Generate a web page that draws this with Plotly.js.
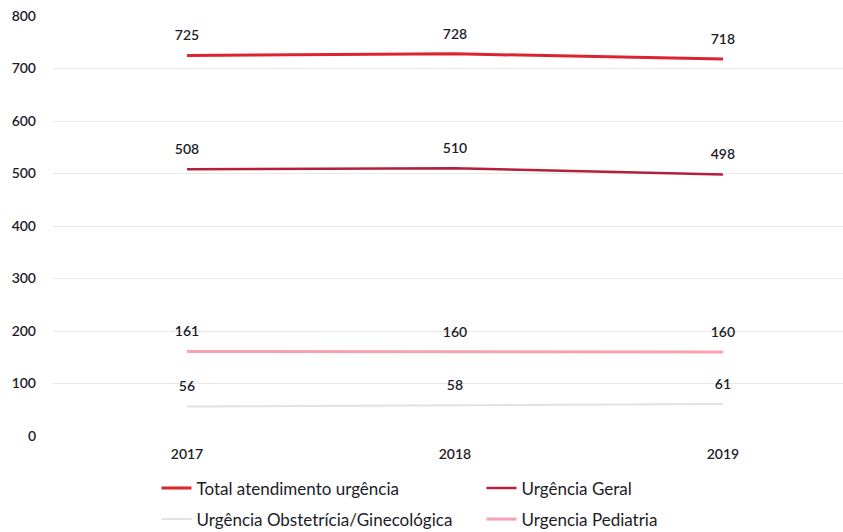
<!DOCTYPE html>
<html>
<head>
<meta charset="utf-8">
<script src="https://cdn.plot.ly/plotly-3.0.1.min.js"></script>
<style>
  html, body { margin: 0; padding: 0; background: #fff; }
  #chart { width: 843px; height: 532px; }
</style>
</head>
<body>
<div id="chart"></div>
<script>
// Anos
const anos = ['2017', '2018', '2019'];

// Atendimentos de urgência por tipo
const totalAtendimento = [725, 728, 718];
const urgenciaGeral = [508, 510, 498];
const urgenciaObstetrica = [56, 58, 61];
const urgenciaPediatria = [161, 160, 160];

// Eixo Y
const yTicks = [0, 100, 200, 300, 400, 500, 600, 700, 800];

const fontFamily = 'Lato, "Open Sans", sans-serif';
const textColor = '#1c1c28';

// Linha da série (entra na legenda)
function linha(nome, valores, cor, largura, legenda) {
  return {
    type: 'scatter',
    mode: 'lines',
    name: nome,
    x: anos,
    y: valores,
    legend: legenda,
    line: { color: cor, width: largura },
    hoverinfo: 'skip'
  };
}

// Rótulos de valor acima de cada ponto
function rotulos(valores) {
  return {
    type: 'scatter',
    mode: 'markers+text',
    x: anos,
    y: valores,
    text: valores.map(String),
    textposition: 'top center',
    textfont: { family: fontFamily, size: 14, color: textColor, weight: 600 },
    marker: { size: 17, opacity: 0 },
    showlegend: false,
    cliponaxis: false,
    hoverinfo: 'skip'
  };
}

const data = [
  linha('Total atendimento urgência', totalAtendimento, '#dc2430', 3, 'legend'),
  linha('Urgência Geral', urgenciaGeral, '#b3203a', 2.5, 'legend'),
  linha('Urgência Obstetrícia/Ginecológica', urgenciaObstetrica, '#e2e2e2', 2, 'legend2'),
  linha('Urgencia Pediatria', urgenciaPediatria, '#f5a3b3', 3, 'legend2'),
  rotulos(totalAtendimento),
  rotulos(urgenciaGeral),
  rotulos(urgenciaObstetrica),
  rotulos(urgenciaPediatria)
];

const legendaBase = {
  orientation: 'h',
  x: 0.131,
  xanchor: 'left',
  yanchor: 'top',
  entrywidth: 280,
  entrywidthmode: 'pixels',
  font: { family: fontFamily, size: 17, color: textColor },
  bgcolor: 'rgba(0,0,0,0)',
  itemclick: false,
  itemdoubleclick: false
};

const layout = {
  width: 843,
  height: 532,
  margin: { l: 53, r: 0, t: 16, b: 96, autoexpand: false },
  paper_bgcolor: '#ffffff',
  plot_bgcolor: '#ffffff',
  font: { family: fontFamily, color: textColor },
  showlegend: true,
  xaxis: {
    type: 'category',
    range: [-0.5, 2.448],
    showgrid: false,
    zeroline: false,
    showline: false,
    ticks: '',
    ticklabelstandoff: 8,
    tickfont: { family: fontFamily, size: 14, color: textColor, weight: 600 },
    fixedrange: true
  },
  yaxis: {
    range: [0, 800],
    tickvals: yTicks,
    ticktext: yTicks.map(String),
    showgrid: true,
    gridcolor: '#e8e8e8',
    gridwidth: 1,
    zeroline: false,
    showline: false,
    ticks: '',
    ticklabelstandoff: 16,
    tickfont: { family: fontFamily, size: 14, color: textColor, weight: 600 },
    fixedrange: true
  },
  legend: Object.assign({}, legendaBase, { y: -0.082 }),
  legend2: Object.assign({}, legendaBase, { y: -0.156 })
};

Plotly.newPlot('chart', data, layout, { displayModeBar: false, staticPlot: true });
</script>
</body>
</html>
